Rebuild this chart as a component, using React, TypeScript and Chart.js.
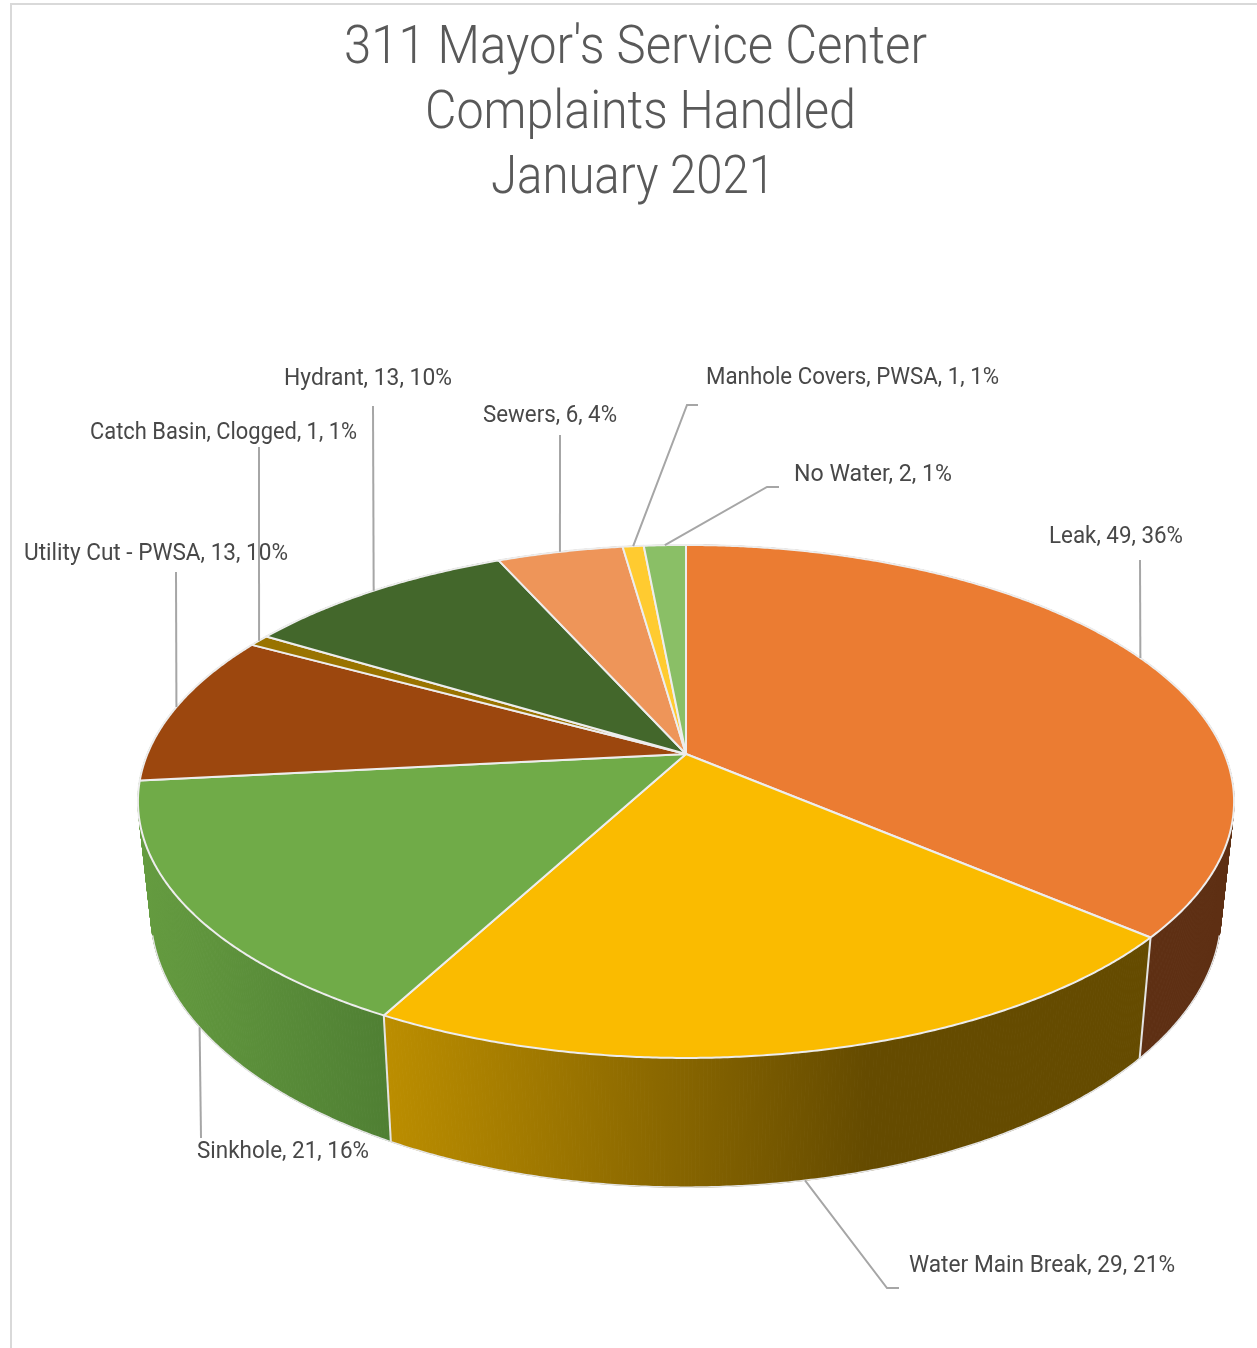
import React, { useEffect, useRef } from "react";
import { Chart, registerables, PieController, ArcElement } from "chart.js";

const categories = [
  "Leak",
  "Water Main Break",
  "Sinkhole",
  "Utility Cut - PWSA",
  "Catch Basin, Clogged",
  "Hydrant",
  "Sewers",
  "Manhole Covers, PWSA",
  "No Water",
];
const complaints = [49, 29, 21, 13, 1, 13, 6, 1, 2];
const percents = [36, 21, 16, 10, 1, 10, 4, 1, 1];
const titleLines = ["311 Mayor's Service Center", "Complaints Handled", "January 2021"];

const sliceColors = ["#EB7C32", "#FABB00", "#70AB48", "#9C470E", "#997300", "#43672B", "#EE9559", "#FFCB30", "#8ABF66"];
const sideShades = [
  ["#5E2F13", "#5E2F13"],
  ["#BC8E00", "#654B00"],
  ["#659C40", "#4F7F33"],
  ["#659C40", "#659C40"],
  ["#5C4500", "#5C4500"],
  ["#283E1A", "#283E1A"],
  ["#915B36", "#915B36"],
  ["#997B1F", "#997B1F"],
  ["#54743E", "#54743E"],
];
const sideShadeStops = [1, 0.63, 1, 1, 1, 1, 1, 1, 1];

// Layout of the perspective view
const W = 1257;
const H = 1348;
const CX = 686;
const K = -0.185;
const TOP = { a: 538.6, b: 247.7, y: 754 };
const BOTTOM = { a: 526, b: 265, y: 862 };
const FONT = "Roboto, 'Noto Sans', sans-serif";

// left, right, baseline for each title line
const titleBoxes = [
  [344, 927, 63],
  [425, 856, 128],
  [491, 775, 193],
];
// left, right, baseline of each data label
const labelBoxes = [
  [1049, 1183, 543],
  [909, 1175, 1272],
  [197, 369, 1158],
  [24, 288, 560],
  [90, 357, 439],
  [284, 452, 385],
  [483, 617, 422],
  [706, 999, 384],
  [794, 952, 481],
];
// leader-line waypoints after the anchor on the pie
const leaderPaths: number[][][] = [
  [[1140, 560]],
  [[887, 1288], [899, 1288]],
  [[201, 1138]],
  [[176, 572]],
  [[259, 447]],
  [[373, 406]],
  [[560, 435]],
  [[687, 405], [698, 405]],
  [[767, 487], [779, 487]],
];
// which rim each leader starts from
const leaderOnBottom = [false, true, true, false, false, false, false, false, false];

function project(angle: number, p: { a: number; b: number; y: number }) {
  const u = Math.cos(angle);
  const v = Math.sin(angle);
  const d = 1 + K * v;
  return { x: CX + (p.a * u) / d, y: p.y + (p.b * v) / d };
}

function sampleAngles(start: number, end: number) {
  const n = Math.max(2, Math.ceil((end - start) / 0.006));
  const out: number[] = [];
  for (let i = 0; i <= n; i++) out.push(start + ((end - start) * i) / n);
  return out;
}

class PerspectiveArc extends ArcElement {
  static id = "perspectiveArc";
  static defaults = ArcElement.defaults;
  draw(ctx: CanvasRenderingContext2D) {
    const { startAngle, endAngle, options } = this as any;
    ctx.save();
    ctx.beginPath();
    ctx.moveTo(CX, TOP.y);
    sampleAngles(startAngle, endAngle).forEach((a) => {
      const p = project(a, TOP);
      ctx.lineTo(p.x, p.y);
    });
    ctx.closePath();
    ctx.fillStyle = options.backgroundColor;
    ctx.fill();
    ctx.lineJoin = "round";
    ctx.strokeStyle = options.borderColor;
    ctx.lineWidth = options.borderWidth;
    ctx.stroke();
    ctx.restore();
  }
}

class PerspectivePie extends PieController {
  static id = "perspectivePie";
  static defaults = { dataElementType: "perspectiveArc" };
}

Chart.register(...registerables, PerspectiveArc, PerspectivePie);

const sidesPlugin = {
  id: "sides",
  beforeDatasetsDraw(chart: any) {
    const { ctx } = chart;
    const arcs = chart
      .getDatasetMeta(0)
      .data.map((arc: any, i: number) => ({ arc, i }))
      .sort(
        (p: any, q: any) =>
          Math.sin((p.arc.startAngle + p.arc.endAngle) / 2) - Math.sin((q.arc.startAngle + q.arc.endAngle) / 2)
      );
    ctx.save();
    arcs.forEach(({ arc, i }: any) => {
      const angles = sampleAngles(arc.startAngle, arc.endAngle);
      const upper = angles.map((a) => project(a, TOP));
      const lower = angles.map((a) => project(a, BOTTOM));
      const xs = [...upper, ...lower].map((p) => p.x);
      const g = ctx.createLinearGradient(Math.min(...xs), 0, Math.max(...xs), 0);
      g.addColorStop(0, sideShades[i][0]);
      g.addColorStop(sideShadeStops[i], sideShades[i][1]);
      g.addColorStop(1, sideShades[i][1]);
      ctx.fillStyle = g;
      ctx.strokeStyle = g;
      ctx.lineWidth = 1;
      for (let k = 0; k < upper.length - 1; k++) {
        ctx.beginPath();
        ctx.moveTo(upper[k].x, upper[k].y);
        ctx.lineTo(upper[k + 1].x, upper[k + 1].y);
        ctx.lineTo(lower[k + 1].x, lower[k + 1].y);
        ctx.lineTo(lower[k].x, lower[k].y);
        ctx.closePath();
        ctx.fill();
        ctx.stroke();
      }
    });
    // only the part of the lower rim that faces the viewer is outlined
    ctx.strokeStyle = "#E4E4E4";
    ctx.lineWidth = 1.5;
    arcs.forEach(({ arc }: any) => {
      const angles = sampleAngles(arc.startAngle, arc.endAngle).filter((a) => Math.sin(a) > 0.26);
      if (angles.length < 2) return;
      ctx.beginPath();
      angles.forEach((a, k) => {
        const p = project(a, BOTTOM);
        k ? ctx.lineTo(p.x, p.y) : ctx.moveTo(p.x, p.y);
      });
      ctx.stroke();
      if (Math.sin(arc.startAngle) > 0.26) {
        const u = project(arc.startAngle, TOP);
        const l = project(arc.startAngle, BOTTOM);
        ctx.lineWidth = 2;
        ctx.beginPath();
        ctx.moveTo(u.x, u.y);
        ctx.lineTo(l.x, l.y);
        ctx.stroke();
        ctx.lineWidth = 1.5;
      }
    });
    ctx.restore();
  },
};

const annotationsPlugin = {
  id: "annotations",
  beforeDraw(chart: any) {
    const { ctx } = chart;
    ctx.save();
    ctx.strokeStyle = "#D9D9D9";
    ctx.lineWidth = 2;
    ctx.beginPath();
    ctx.moveTo(11, H);
    ctx.lineTo(11, 4);
    ctx.lineTo(W, 4);
    ctx.stroke();
    ctx.restore();
  },
  afterDatasetsDraw(chart: any) {
    const { ctx } = chart;
    ctx.save();
    ctx.textBaseline = "alphabetic";
    ctx.textAlign = "left";
    ctx.fillStyle = "#595959";
    ctx.font = `300 54px ${FONT}`;
    titleLines.forEach((t, i) => {
      const [l, r, y] = titleBoxes[i];
      ctx.fillText(t, l, y, r - l);
    });

    ctx.strokeStyle = "#A6A6A6";
    ctx.lineWidth = 2;
    chart.getDatasetMeta(0).data.forEach((arc: any, i: number) => {
      const mid = (arc.startAngle + arc.endAngle) / 2;
      const start = project(mid, leaderOnBottom[i] ? BOTTOM : TOP);
      ctx.beginPath();
      ctx.moveTo(start.x, start.y);
      leaderPaths[i].forEach(([x, y]) => ctx.lineTo(x, y));
      ctx.stroke();
    });

    ctx.fillStyle = "#484848";
    ctx.font = `400 24px ${FONT}`;
    categories.forEach((name, i) => {
      const [l, r, y] = labelBoxes[i];
      ctx.fillText(`${name}, ${complaints[i]}, ${percents[i]}%`, l, y, r - l);
    });
    ctx.restore();
  },
};

export default function App() {
  const ref = useRef<HTMLCanvasElement>(null);
  useEffect(() => {
    document.body.style.margin = "0";
    document.body.style.background = "#fff";
    const chart = new Chart(ref.current!, {
      type: "perspectivePie" as any,
      data: {
        labels: categories,
        datasets: [
          {
            data: complaints,
            backgroundColor: sliceColors,
            borderColor: "#EDEDED",
            borderWidth: 2,
          },
        ],
      },
      options: {
        responsive: false,
        animation: false,
        devicePixelRatio: 1,
        plugins: { legend: { display: false }, tooltip: { enabled: false }, title: { display: false } },
      },
      plugins: [sidesPlugin, annotationsPlugin],
    } as any);
    return () => chart.destroy();
  }, []);
  return <canvas ref={ref} width={W} height={H} style={{ display: "block", width: W, height: H }} />;
}
